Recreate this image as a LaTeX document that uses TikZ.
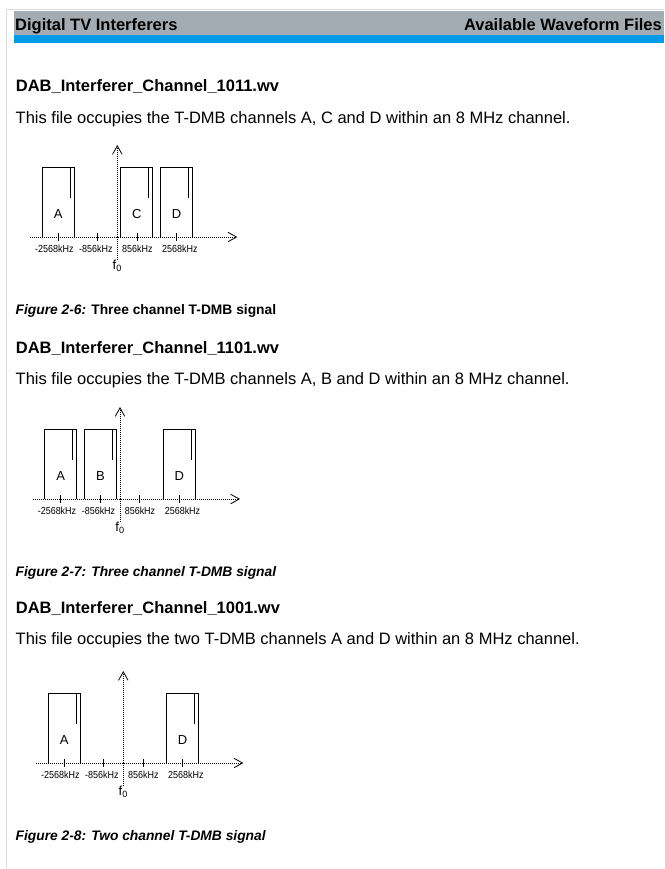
\documentclass[tikz,border=0pt]{standalone}
\usepackage{fontspec}
\setmainfont{Liberation Sans}
\usepackage{xcolor}
\usetikzlibrary{shapes,arrows,arrows.meta}
\definecolor{headgray}{RGB}{164,172,179}
\definecolor{headblue}{RGB}{0,154,230}
\definecolor{framegray}{RGB}{218,220,222}
\tikzstyle{heading} = [anchor=base west, inner sep=0pt,
    font=\fontsize{16.5}{18}\selectfont\bfseries]
\tikzstyle{bodytext} = [anchor=base west, inner sep=0pt,
    font=\fontsize{16.5}{18}\selectfont]
\tikzstyle{caption} = [anchor=base west, inner sep=0pt,
    font=\fontsize{13.8}{16}\selectfont\bfseries]
\tikzstyle{freqlabel} = [anchor=base, inner sep=0pt, font=\fontsize{10.2}{11}\selectfont]
\tikzstyle{chanlabel} = [inner sep=0pt, font=\fontsize{13}{15}\selectfont]
\tikzstyle{channel} = [draw, line width=0.9pt]
\tikzstyle{tickmark} = [draw, line width=0.8pt]
\tikzstyle{dotaxis} = [draw, line width=0.8pt, dash pattern=on 0.9pt off 1.1pt,
    -{Straight Barb[length=8.5pt, width=9.5pt, line width=0.8pt]}]
\tikzstyle{dotline} = [draw, line width=0.8pt, dash pattern=on 0.9pt off 1.1pt]
\newcommand{\narrow}[1]{\scalebox{0.88}[1]{#1}}

\begin{document}
\begin{tikzpicture}[x=1pt, y=-1pt]
    \useasboundingbox (0,0) rectangle (664,869);
    % Page frame and header
    \draw [framegray, line width=1pt] (6,869) -- (6,10) -- (664,10);
    \fill [headgray] (14,11.5) rectangle (664,35);
    \fill [headblue] (14,35) rectangle (664,42.7);
    \node [heading] (chapter) at (15,30.7) {Digital TV Interferers};
    \node [heading, anchor=base east] (section) at (662,30.7) {Available Waveform Files};
%
    % File 1011
    \node [heading] (file1) at (15.7,91.7) {DAB\_Interferer\_Channel\_1011.wv};
    \node [bodytext] (text1) at (15.5,123.3) {This file occupies the T-DMB channels A, C and D within an 8 MHz channel.};
    \begin{scope}[shift={(117.3,237)}, name prefix=s1-]
        \coordinate (left) at (-87,0);
        \coordinate (right) at (120,0);
        \coordinate (base) at (0,23);
        \coordinate (top) at (0,-92);
        \foreach \c/\n in {-59.2/A, 19.6/C, 59.2/D} {
            \draw [channel] (\c-16,0) -- (\c-16,-70) -- (\c+16,-70) -- (\c+16,0);
            \draw [channel] (\c+12,-70) -- (\c+12,-39);
            \node [chanlabel] (ch\n) at (\c,-23) {\n};
        }
        \foreach \t in {-59.2,-19.6,19.6,59.2}
            \draw [tickmark] (\t,-4) -- (\t,4);
        \path [dotaxis] (left) -- (right);
        \path [dotline] (base) -- (0,0);
        \path [dotaxis] (0,0) -- (top);
        \node [freqlabel] (m2568) at (-63,15.5) {\narrow{-2568kHz}};
        \node [freqlabel] (m856) at (-21.5,15.5) {\narrow{-856kHz}};
        \node [freqlabel] (p856) at (20,15.5) {\narrow{856kHz}};
        \node [freqlabel] (p2568) at (62.5,15.5) {\narrow{2568kHz}};
        \node [chanlabel, anchor=base] (f0) at (0,32) {f\textsubscript{0}};
    \end{scope}
    \node [caption] (cap1) at (15.5,314) {\textit{Figure 2-6:} Three channel T-DMB signal};
%
    % File 1101
    \node [heading] (file2) at (15.7,353) {DAB\_Interferer\_Channel\_1101.wv};
    \node [bodytext] (text2) at (15.5,384.6) {This file occupies the T-DMB channels A, B and D within an 8 MHz channel.};
    \begin{scope}[shift={(120,499)}, name prefix=s2-]
        \coordinate (left) at (-87,0);
        \coordinate (right) at (120,0);
        \coordinate (base) at (0,23);
        \coordinate (top) at (0,-92);
        \foreach \c/\n in {-59.2/A, -19.6/B, 59.2/D} {
            \draw [channel] (\c-16,0) -- (\c-16,-70) -- (\c+16,-70) -- (\c+16,0);
            \draw [channel] (\c+12,-70) -- (\c+12,-39);
            \node [chanlabel] (ch\n) at (\c,-23) {\n};
        }
        \foreach \t in {-59.2,-19.6,19.6,59.2}
            \draw [tickmark] (\t,-4) -- (\t,4);
        \path [dotaxis] (left) -- (right);
        \path [dotline] (base) -- (0,0);
        \path [dotaxis] (0,0) -- (top);
        \node [freqlabel] (m2568) at (-63,15.5) {\narrow{-2568kHz}};
        \node [freqlabel] (m856) at (-21.5,15.5) {\narrow{-856kHz}};
        \node [freqlabel] (p856) at (20,15.5) {\narrow{856kHz}};
        \node [freqlabel] (p2568) at (62.5,15.5) {\narrow{2568kHz}};
        \node [chanlabel, anchor=base] (f0) at (0,32) {f\textsubscript{0}};
    \end{scope}
    \node [caption] (cap2) at (15.5,576) {\itshape Figure 2-7: Three channel T-DMB signal};
%
    % File 1001
    \node [heading] (file3) at (15.7,613) {DAB\_Interferer\_Channel\_1001.wv};
    \node [bodytext] (text3) at (15.5,644.6) {This file occupies the two T-DMB channels A and D within an 8 MHz channel.};
    \begin{scope}[shift={(123.3,763)}, name prefix=s3-]
        \coordinate (left) at (-87,0);
        \coordinate (right) at (120,0);
        \coordinate (base) at (0,23);
        \coordinate (top) at (0,-92);
        \foreach \c/\n in {-59.2/A, 59.2/D} {
            \draw [channel] (\c-16,0) -- (\c-16,-70) -- (\c+16,-70) -- (\c+16,0);
            \draw [channel] (\c+12,-70) -- (\c+12,-39);
            \node [chanlabel] (ch\n) at (\c,-23) {\n};
        }
        \foreach \t in {-59.2,-19.6,19.6,59.2}
            \draw [tickmark] (\t,-4) -- (\t,4);
        \path [dotaxis] (left) -- (right);
        \path [dotline] (base) -- (0,0);
        \path [dotaxis] (0,0) -- (top);
        \node [freqlabel] (m2568) at (-63,15.5) {\narrow{-2568kHz}};
        \node [freqlabel] (m856) at (-21.5,15.5) {\narrow{-856kHz}};
        \node [freqlabel] (p856) at (20,15.5) {\narrow{856kHz}};
        \node [freqlabel] (p2568) at (62.5,15.5) {\narrow{2568kHz}};
        \node [chanlabel, anchor=base] (f0) at (0,32) {f\textsubscript{0}};
    \end{scope}
    \node [caption] (cap3) at (15.5,840) {\itshape Figure 2-8: Two channel T-DMB signal};
\end{tikzpicture}
\end{document}
